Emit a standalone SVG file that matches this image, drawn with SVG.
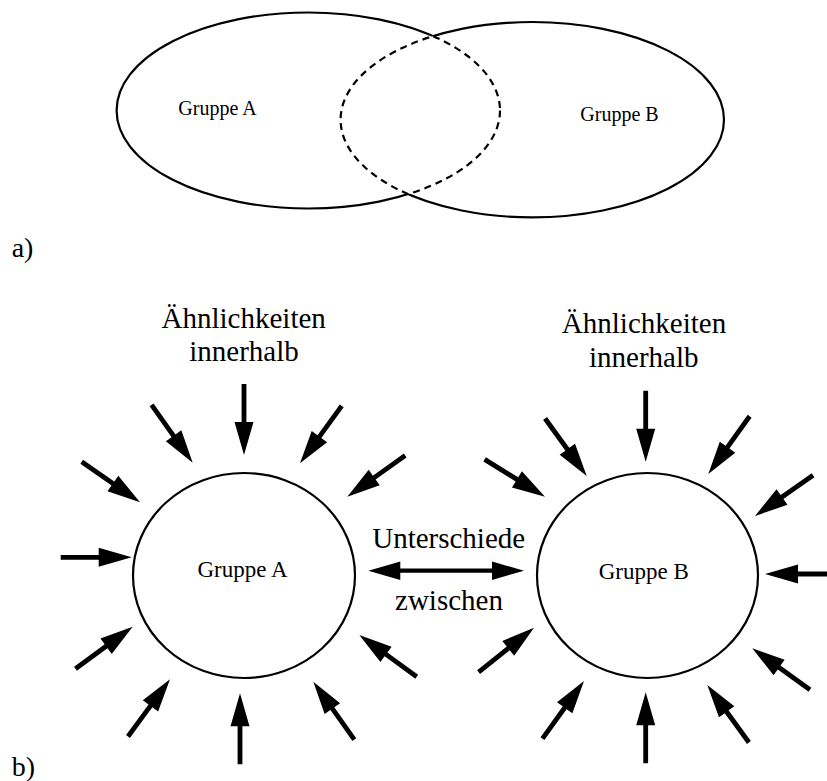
<svg xmlns="http://www.w3.org/2000/svg" xmlns:xlink="http://www.w3.org/1999/xlink" width="827" height="781" viewBox="0 0 827 781">
  <style>
    text { font-family: "Liberation Serif", "Times New Roman", serif; fill: #000; }
    .lbl { font-size: 29px; text-anchor: middle; }
    .grp { font-size: 20px; text-anchor: middle; }
    .grpb { font-size: 23px; text-anchor: middle; }
    .tag { font-size: 28px; }
    .outline { fill: none; stroke: #000; stroke-width: 2.2; }
    .dash { fill: none; stroke: #000; stroke-width: 2.2; stroke-dasharray: 7 5; }
    .arr { fill: #000; stroke: none; }
  </style>
  <defs>
    <path id="arr" d="M-71,-2.4 H-33 V-9.5 L0,0 L-33,9.5 V2.4 H-71 Z"/>
    <clipPath id="inB"><ellipse cx="532.3" cy="119.7" rx="191.7" ry="97.7"/></clipPath>
    <clipPath id="inA"><ellipse cx="308.3" cy="110.5" rx="191.7" ry="98"/></clipPath>
    <clipPath id="outB"><path clip-rule="evenodd" d="M0,0 H827 V781 H0 Z M340.6,119.7 a191.7,97.7 0 1,0 383.4,0 a191.7,97.7 0 1,0 -383.4,0 Z"/></clipPath>
    <clipPath id="outA"><path clip-rule="evenodd" d="M0,0 H827 V781 H0 Z M116.6,110.5 a191.7,98 0 1,0 383.4,0 a191.7,98 0 1,0 -383.4,0 Z"/></clipPath>
  </defs>
  <rect width="827" height="781" fill="#fff"/>

  <!-- Part a) Venn -->
  <g id="venn-gruppe-a">
    <ellipse class="outline" cx="308.3" cy="110.5" rx="191.7" ry="98" clip-path="url(#outB)"/>
    <ellipse class="dash" cx="308.3" cy="110.5" rx="191.7" ry="98" clip-path="url(#inB)"/>
    <text class="grp" x="217.5" y="115">Gruppe A</text>
  </g>
  <g id="venn-gruppe-b">
    <ellipse class="outline" cx="532.3" cy="119.7" rx="191.7" ry="97.7" clip-path="url(#outA)"/>
    <ellipse class="dash" cx="532.3" cy="119.7" rx="191.7" ry="97.7" clip-path="url(#inA)"/>
    <text class="grp" x="619.5" y="121">Gruppe B</text>
  </g>
  <text class="tag" x="11.7" y="257">a)</text>

  <!-- Part b) -->
  <g id="gruppe-a">
    <ellipse class="outline" cx="244" cy="575.5" rx="111" ry="102.5"/>
    <text class="grpb" x="242.5" y="577">Gruppe A</text>
  </g>
  <g id="gruppe-b">
    <ellipse class="outline" cx="647.5" cy="575.5" rx="110.5" ry="102.5"/>
    <text class="grpb" x="643.8" y="579">Gruppe B</text>
  </g>

  <g id="label-a">
    <text class="lbl" x="243.7" y="328.3">Ähnlichkeiten</text>
    <text class="lbl" x="244" y="360.7">innerhalb</text>
  </g>
  <g id="label-b">
    <text class="lbl" x="644" y="333.3">Ähnlichkeiten</text>
    <text class="lbl" x="643.8" y="366.7">innerhalb</text>
  </g>

  <g id="arrows-a" class="arr">
    <use xlink:href="#arr" transform="translate(244,455) rotate(90)"/>
    <use xlink:href="#arr" transform="translate(192.7,462.7) rotate(54.6)"/>
    <use xlink:href="#arr" transform="translate(300,463.3) rotate(126)"/>
    <use xlink:href="#arr" transform="translate(140,502.3) rotate(34.8)"/>
    <use xlink:href="#arr" transform="translate(347.3,496.7) rotate(144.6)"/>
    <use xlink:href="#arr" transform="translate(131.7,557.3) rotate(0)"/>
    <use xlink:href="#arr" transform="translate(132.7,626.7) rotate(-36.3)"/>
    <use xlink:href="#arr" transform="translate(170,679.3) rotate(-53.7)"/>
    <use xlink:href="#arr" transform="translate(240,693.3) rotate(-90)"/>
    <use xlink:href="#arr" transform="translate(313.3,681.7) rotate(-125.3)"/>
    <use xlink:href="#arr" transform="translate(359.3,635) rotate(-144)"/>
  </g>
  <g id="arrows-b" class="arr">
    <use xlink:href="#arr" transform="translate(645.7,461.7) rotate(90)"/>
    <use xlink:href="#arr" transform="translate(586.7,476) rotate(54.1)"/>
    <use xlink:href="#arr" transform="translate(708.3,474) rotate(125.6)"/>
    <use xlink:href="#arr" transform="translate(545,496.7) rotate(31.7)"/>
    <use xlink:href="#arr" transform="translate(755,516) rotate(144.9)"/>
    <use xlink:href="#arr" transform="translate(765,574) rotate(180)"/>
    <use xlink:href="#arr" transform="translate(534,627.7) rotate(-38.7)"/>
    <use xlink:href="#arr" transform="translate(584,681) rotate(-54.2)"/>
    <use xlink:href="#arr" transform="translate(645.7,692.3) rotate(-90)"/>
    <use xlink:href="#arr" transform="translate(707.3,685) rotate(-125.9)"/>
    <use xlink:href="#arr" transform="translate(752.3,648.3) rotate(-144.3)"/>
  </g>

  <g id="connectors">
    <path class="arr" d="M368.3,570.7 l32,-9.2 v7.1 h91.7 v-7.1 l32,9.2 l-32,9.2 v-7.1 h-91.7 v7.1 z"/>
    <text class="lbl" x="448.7" y="547.7">Unterschiede</text>
    <text class="lbl" x="449" y="610">zwischen</text>
  </g>
  <text class="tag" x="11.7" y="776">b)</text>
</svg>
